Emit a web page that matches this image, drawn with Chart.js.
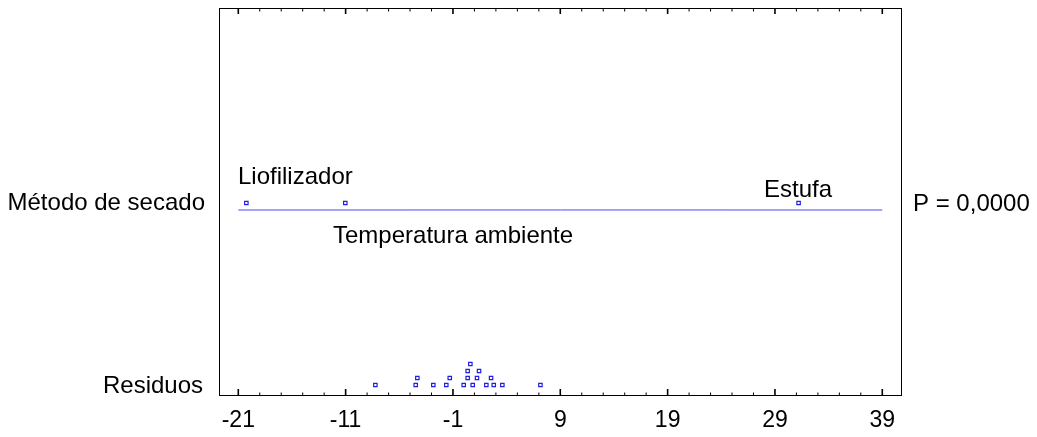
<!DOCTYPE html>
<html>
<head>
<meta charset="utf-8">
<script src="https://cdn.jsdelivr.net/npm/chart.js@4.4.1/dist/chart.umd.min.js"></script>
<style>
  html, body { margin: 0; padding: 0; background: #ffffff; }
  #wrap { width: 1037px; height: 437px; position: relative; }
</style>
</head>
<body>
<div id="wrap"><canvas id="c" width="1037" height="437"></canvas></div>
<script>
// ---- data ----
const groupLabels = ['Liofilizador', 'Temperatura ambiente', 'Estufa'];
const groupMeans = [-20.25, -11.03, 31.2];
const residuals = [-8.23, -4.47, -4.32, -2.83, -1.62, -1.30, 0.00, 0.37, 0.37, 0.62, 0.84, 1.24, 1.43, 2.11, 2.55, 2.80, 3.60, 7.15];
const residualLevels = [1, 1, 2, 1, 1, 2, 1, 2, 3, 4, 1, 2, 3, 1, 2, 1, 1, 1];
const xTicks = [-21, -11, -1, 9, 19, 29, 39];
const rowLabels = ['Método de secado', 'Residuos'];
const pLabel = 'P = 0,0000';
const meanRow = 27;
const lineRow = 26;
const lineRange = [-21, 39];

const FONT = '"Liberation Sans", Arial, sans-serif';

const framePlugin = {
  id: 'frame',
  afterDraw(chart) {
    const ctx = chart.ctx;
    const a = chart.chartArea;
    const xs = chart.scales.x;
    ctx.save();
    ctx.strokeStyle = '#000';
    ctx.lineWidth = 1;
    ctx.strokeRect(a.left + 0.5, a.top + 0.5, a.right - a.left - 1, a.bottom - a.top - 1);
    // tick marks (minor every 2 units, major at labelled ticks)
    for (let v = xTicks[0]; v <= xTicks[xTicks.length - 1] + 0.001; v += 2) {
      const major = xTicks.some(t => Math.abs(t - v) < 1e-6);
      const px = xs.getPixelForValue(v);
      ctx.lineWidth = major ? 1.6 : 1;
      ctx.beginPath();
      ctx.moveTo(px, a.bottom - 1);
      ctx.lineTo(px, a.bottom - (major ? 7 : 3.5));
      ctx.moveTo(px, a.top + 1);
      ctx.lineTo(px, a.top + (major ? 6 : 3.5));
      ctx.stroke();
    }
    // texts
    ctx.fillStyle = '#000';
    ctx.font = '24px ' + FONT;
    ctx.textBaseline = 'alphabetic';
    ctx.textAlign = 'right';
    ctx.fillText(rowLabels[0], 205, 210);
    ctx.fillText(rowLabels[1], 203, 393);
    ctx.textAlign = 'left';
    ctx.fillText(pLabel, 913, 211);
    ctx.fillText(groupLabels[0], 238, 184);
    ctx.fillText(groupLabels[1], 333, 242.5);
    ctx.fillText(groupLabels[2], 764, 196.5);
    ctx.restore();
  }
};

const meanPoints = groupMeans.map(v => ({ x: v, y: meanRow }));
const residPoints = residuals.map((v, i) => ({ x: v, y: residualLevels[i] }));

new Chart(document.getElementById('c'), {
  type: 'scatter',
  data: {
    datasets: [
      {
        type: 'line',
        data: lineRange.map(v => ({ x: v, y: lineRow })),
        borderColor: '#4848ff',
        borderWidth: 1,
        pointRadius: 0,
        fill: false
      },
      {
        data: meanPoints,
        pointStyle: 'rect',
        pointRadius: 2.4,
        borderColor: '#1e1ee6',
        backgroundColor: '#ffffff',
        pointBorderWidth: 1.2,
        borderWidth: 1.2
      },
      {
        data: residPoints,
        pointStyle: 'rect',
        pointRadius: 2.4,
        borderColor: '#1e1ee6',
        backgroundColor: '#ffffff',
        pointBorderWidth: 1.2,
        borderWidth: 1.2
      }
    ]
  },
  options: {
    responsive: false,
    animation: false,
    events: [],
    layout: { padding: { left: 219, right: 135, top: 8, bottom: 0 } },
    plugins: { legend: { display: false }, tooltip: { enabled: false } },
    scales: {
      x: {
        type: 'linear',
        min: -22.798,
        max: 40.836,
        afterBuildTicks(scale) { scale.ticks = xTicks.map(v => ({ value: v })); },
        afterFit(scale) { scale.height = 41; },
        grid: { display: false, drawTicks: false },
        border: { display: false },
        ticks: {
          autoSkip: false,
          maxRotation: 0,
          padding: 11,
          color: '#000',
          font: { family: FONT, size: 23 },
          callback: v => String(v)
        }
      },
      y: {
        type: 'linear',
        display: false,
        min: -0.5714,
        max: 54.857
      }
    }
  },
  plugins: [framePlugin]
});
</script>
</body>
</html>
